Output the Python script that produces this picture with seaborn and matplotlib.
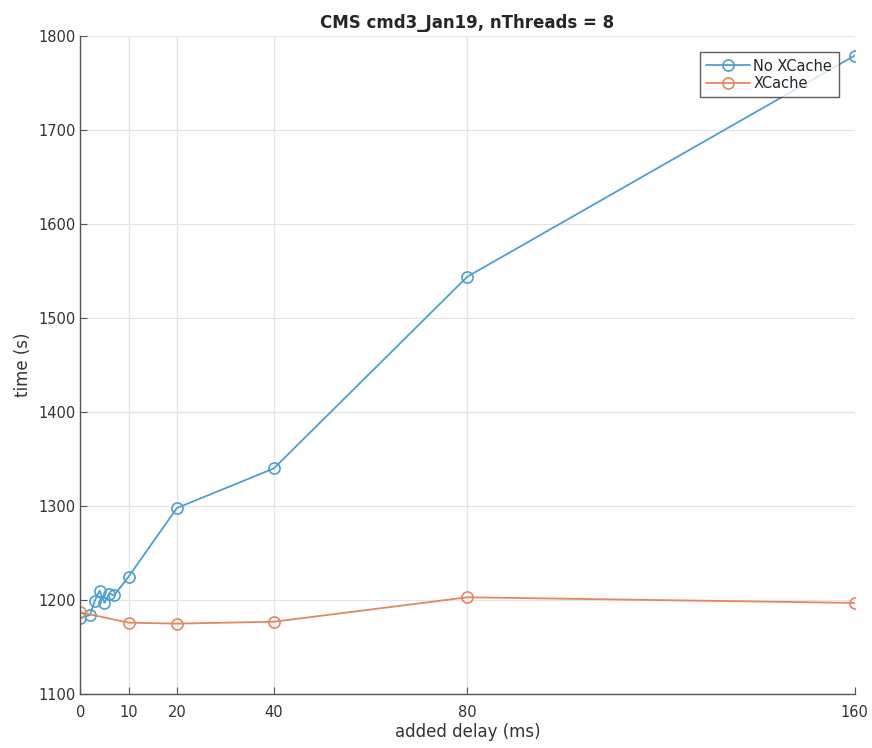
import pandas as pd
import seaborn as sns
import matplotlib.pyplot as plt
from matplotlib.lines import Line2D

# Data
delay_nocache = [0, 2, 3, 4, 5, 6, 7, 10, 20, 40, 80, 160]
time_nocache = [1181, 1184, 1199, 1210, 1197, 1207, 1205, 1225, 1298, 1340, 1544, 1779]

delay_cache = [0, 10, 20, 40, 80, 160]
time_cache = [1187, 1176, 1175, 1177, 1203, 1197]

x_ticks = [0, 10, 20, 40, 80, 160]
y_ticks = [1100, 1200, 1300, 1400, 1500, 1600, 1700, 1800]

dtf = pd.concat([
    pd.DataFrame({'delay': delay_nocache, 'time': time_nocache, 'series': 'No XCache'}),
    pd.DataFrame({'delay': delay_cache, 'time': time_cache, 'series': 'XCache'}),
])

sns.set_style('white')
plt.rcParams['font.family'] = ['DejaVu Sans']

fig = plt.figure(figsize=(8.72, 7.48), dpi=100)
ax = fig.add_axes([0.092, 0.072, 0.888, 0.88])

palette = {'No XCache': '#4c9fd3', 'XCache': '#e5875f'}
sns.lineplot(data=dtf, x='delay', y='time', hue='series', palette=palette,
             marker='o', markersize=8, markerfacecolor='none', markeredgewidth=1.2,
             linewidth=1.3, ax=ax, sort=False, legend=False)

for line, name in zip(ax.lines, ['No XCache', 'XCache']):
    line.set_markeredgecolor(palette[name])

ax.set_xlim(0, 160)
ax.set_ylim(1100, 1800)
ax.set_xticks(x_ticks)
ax.set_yticks(y_ticks)
ax.grid(True, color='#e4e4e4', linewidth=0.9)
ax.set_axisbelow(True)

for side in ['top', 'right']:
    ax.spines[side].set_visible(False)
for side in ['left', 'bottom']:
    ax.spines[side].set_color('#555555')
    ax.spines[side].set_linewidth(1.0)

ax.tick_params(direction='in', length=5, color='#555555', labelsize=10.5,
               labelcolor='#333333', left=True, bottom=True)
ax.tick_params(axis='x', pad=8)

ax.set_xlabel('added delay (ms)', fontsize=12, color='#333333', labelpad=2)
ax.set_ylabel('time (s)', fontsize=12, color='#333333')
ax.set_title('CMS cmd3_Jan19, nThreads = 8', fontsize=12, fontweight='bold', pad=6)

handles = [Line2D([], [], color=palette[n], marker='o', markersize=8,
                  markerfacecolor='none', markeredgewidth=1.2, linewidth=1.3)
           for n in ['No XCache', 'XCache']]
leg = ax.legend(handles, ['No XCache', 'XCache'], loc='upper right', fontsize=10.5,
                frameon=True, fancybox=False, borderaxespad=1.1, handlelength=3.0,
                borderpad=0.45, labelspacing=0.15, handletextpad=0.2)
leg.get_frame().set_edgecolor('#333333')
leg.get_frame().set_linewidth(1.0)

fig.savefig('out.png', dpi=100)
